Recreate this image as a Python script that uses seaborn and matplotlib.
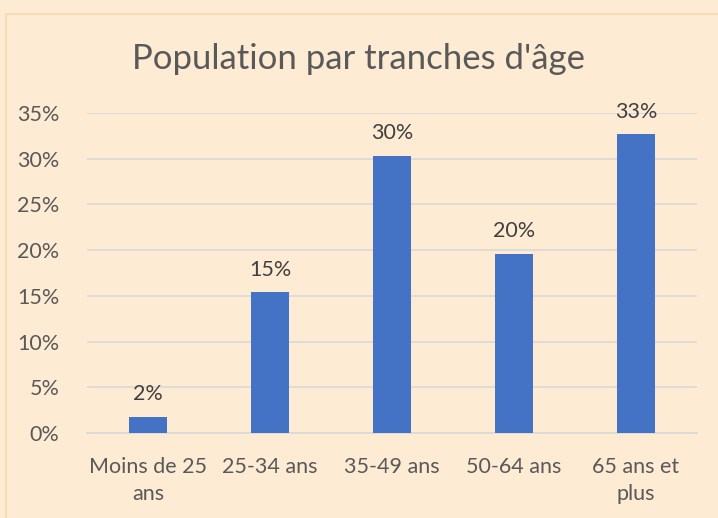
import matplotlib
matplotlib.use("Agg")
import matplotlib.pyplot as plt
import seaborn as sns
import pandas as pd
from matplotlib.patches import Rectangle
from matplotlib.ticker import FuncFormatter

categories = ["Moins de 25\nans", "25-34 ans", "35-49 ans", "50-64 ans", "65 ans et\nplus"]
values = [0.0175, 0.154, 0.303, 0.196, 0.327]
labels = ["2%", "15%", "30%", "20%", "33%"]
title = "Population par tranches d'âge"

bg = "#FEEBD4"
bar_color = "#4472C4"
text_color = "#595959"
grid_color = "#D9D9D9"

sns.set_theme(style="white")
plt.rcParams["font.family"] = ["Lato", "DejaVu Sans"]

df = pd.DataFrame({"cat": categories, "val": values})

fig = plt.figure(figsize=(7.18, 5.18), dpi=100)
fig.patch.set_facecolor(bg)
fig.patches.append(Rectangle((6/718, -0.1), 1.2, 1 - 14/518 + 0.1, transform=fig.transFigure,
                             fill=False, edgecolor="#F9D9B0", linewidth=1.2, zorder=0))

ax = fig.add_axes([87/718, 1 - 433/518, (697 - 87)/718, (433 - 113)/518])
ax.set_facecolor(bg)
sns.barplot(data=df, x="cat", y="val", color=bar_color, width=0.31, saturation=1,
            linewidth=0, ax=ax, zorder=3)

ax.set_ylim(0, 0.35)
ax.set_xlim(-0.5, 4.5)
ax.set_yticks([0, 0.05, 0.10, 0.15, 0.20, 0.25, 0.30, 0.35])
ax.yaxis.set_major_formatter(FuncFormatter(lambda v, p: f"{round(v*100)}%"))
ax.grid(axis="y", color=grid_color, linewidth=1.2, zorder=0)
ax.set_axisbelow(True)
for s in ["top", "right", "left"]:
    ax.spines[s].set_visible(False)
ax.spines["bottom"].set_color(grid_color)
ax.spines["bottom"].set_linewidth(1.2)
ax.tick_params(axis="both", length=0, labelsize=15.5, colors=text_color)
ax.tick_params(axis="y", pad=20)
ax.tick_params(axis="x", pad=17)
for t in ax.get_xticklabels():
    t.set_linespacing(1.45)
ax.set_xlabel("")
ax.set_ylabel("")

for i, (v, lab) in enumerate(zip(values, labels)):
    ax.annotate(lab, (i, v), xytext=(0, 9), textcoords="offset points",
                ha="center", va="bottom", fontsize=15.5, color="#404040", clip_on=False)

fig.text(0.5, 1 - 59/518, title, ha="center", va="center", fontsize=25, color=text_color)

fig.savefig("out.png", dpi=100, facecolor=bg)
